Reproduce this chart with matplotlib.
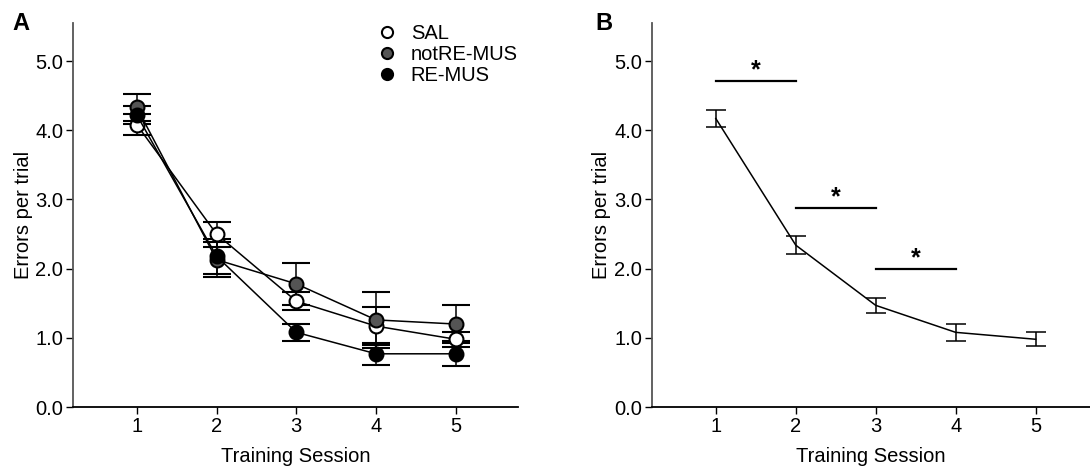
import matplotlib.pyplot as plt
from matplotlib.lines import Line2D

plt.rcParams['font.family'] = ['Liberation Sans', 'DejaVu Sans']

sessions = [1, 2, 3, 4, 5]

# panel A
sal = [4.08, 2.50, 1.53, 1.17, 0.98]
sal_err = [0.15, 0.18, 0.13, 0.27, 0.11]
notre = [4.33, 2.13, 1.78, 1.26, 1.20]
notre_err = [0.20, 0.25, 0.30, 0.40, 0.27]
remus = [4.22, 2.18, 1.08, 0.77, 0.77]
remus_err = [0.13, 0.25, 0.12, 0.16, 0.18]

# panel B
all_mean = [4.17, 2.34, 1.47, 1.08, 0.98]
all_err = [0.12, 0.13, 0.11, 0.12, 0.10]
sig_pairs = [(1, 2), (2, 3), (3, 4)]
sig_y = [4.71, 2.88, 2.0]

fig = plt.figure(figsize=(10.9, 4.69), dpi=100)
ax1 = fig.add_axes([0.067, 0.132, 0.4082, 0.819])
ax2 = fig.add_axes([0.598, 0.132, 0.402, 0.819])

groups = [("SAL", sal, sal_err, "white"),
          ("notRE-MUS", notre, notre_err, "#555555"),
          ("RE-MUS", remus, remus_err, "black")]
handles = []
for name, m, e, c in groups:
    ax1.errorbar(sessions, m, yerr=e, color="black", lw=1.1, capsize=10,
                 capthick=1.1, elinewidth=1.1, marker="o", ms=10,
                 mfc=c, mec="black", mew=1.5)
    handles.append(Line2D([], [], ls="none", marker="o", ms=8, mfc=c,
                          mec="black", mew=1.5, label=name))

ax1.legend(handles=handles, loc="upper left", bbox_to_anchor=(0.637, 1.045),
           frameon=False, fontsize=14.5, handlelength=1.2, handletextpad=0.6,
           labelspacing=0.1)

ax2.errorbar(sessions, all_mean, yerr=all_err, color="black", lw=1.1,
             capsize=7, capthick=1.1, elinewidth=1.1)
for (a, b), y in zip(sig_pairs, sig_y):
    ax2.plot([a, b], [y, y], color="black", lw=1.6)
    ax2.text((a + b) / 2, y - 0.02, "*", ha="center", va="bottom",
             fontsize=18, fontweight="bold")

for ax, xmax in [(ax1, 5.78), (ax2, 5.68)]:
    ax.set_xlim(0.2, xmax)
    ax.set_ylim(0, 5.55)
    ax.set_xticks(sessions)
    ax.set_yticks([0, 1, 2, 3, 4, 5])
    ax.set_yticklabels(["0.0", "1.0", "2.0", "3.0", "4.0", "5.0"])
    ax.spines["top"].set_visible(False)
    ax.spines["right"].set_visible(False)
    ax.spines["left"].set_color("#555555")
    ax.spines["left"].set_linewidth(1.3)
    ax.spines["bottom"].set_linewidth(1.3)
    ax.tick_params(labelsize=14.5, length=5, width=1, pad=2)
    ax.set_xlabel("Training Session", fontsize=14.5, labelpad=8)
    ax.set_ylabel("Errors per trial", fontsize=14.5, labelpad=2)

fig.text(0.011, 0.935, "A", fontsize=17, fontweight="bold")
fig.text(0.546, 0.935, "B", fontsize=17, fontweight="bold")

fig.savefig("out.png", dpi=100)
